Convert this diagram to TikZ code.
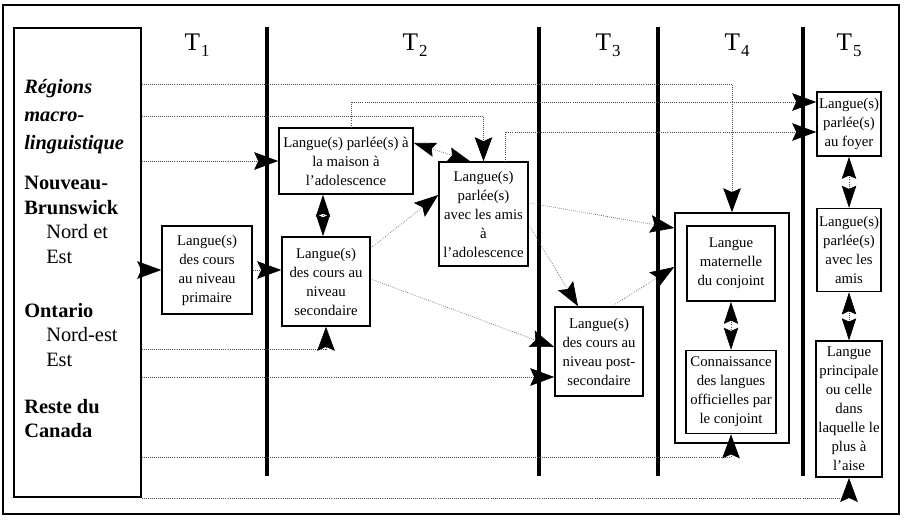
\documentclass[tikz,border=0pt]{standalone}
\usepackage{fontspec}
\setmainfont{Liberation Serif}
\usetikzlibrary{arrows.meta,positioning}
\tikzset{
    boite/.style={rectangle, draw=black, line width=1.1pt, align=center, inner sep=1pt, font=\fontsize{10.5}{13.5}\selectfont},
    region/.style={anchor=north west, inner sep=0pt, align=left, font=\fontsize{14.5}{17.4}\selectfont},
    fil/.style={line width=.45pt, densely dotted, black!70},
    tete/.tip={Stealth[length=6mm, width=4.4mm, inset=1mm, black]},
    dtete/.tip={Stealth[length=5.5mm, width=3.6mm, inset=.8mm, black]},
    pil/.style={fil, -tete},
    dpil/.style={fil, dtete-dtete},
    separ/.style={line width=2.2pt}
}
\newcommand{\tlab}[1]{T\kern.04em\raisebox{-.55ex}{\fontsize{12}{12}\selectfont #1}}

\begin{document}
\begin{tikzpicture}[x=0.025cm, y=-0.025cm]
    \useasboundingbox (0,0) rectangle (906,519);
    \draw[line width=1.2pt] (3,5) rectangle (899,514);
    % colonnes T1 ... T5
    \foreach \x in {267,539,658,803}
      \draw[separ] (\x,27) -- (\x,476);
    \foreach \x/\n in {197/1,415/2,608/3,737/4,849/5}
      \node[font=\fontsize{18}{18}\selectfont] (t\n) at (\x,45) {\tlab{\n}};

    % regions
    \node[draw, line width=1.2pt, minimum width=3.175cm, minimum height=11.725cm] (reg) at (77.5,262.5) {};
    \node[region, font=\fontsize{14.5}{20}\selectfont\bfseries\itshape] (regtitre) at (24,79)
      {Régions\\macro-\\linguistique};
    \node[region] (nb) at (24,176)
      {\textbf{Nouveau-}\\\textbf{Brunswick}\\\hspace*{5.5mm}Nord et\\\hspace*{5.5mm}Est};
    \node[region] (on) at (24,303)
      {\textbf{Ontario}\\\hspace*{5.5mm}Nord-est\\\hspace*{5.5mm}Est};
    \node[region] (rc) at (24,399)
      {\textbf{Reste du}\\\textbf{Canada}};

    % boites
    \node[boite, minimum width=2.25cm, minimum height=2.2cm] (primaire) at (207,270)
      {Langue(s)\\des cours\\au niveau\\primaire};
    \node[boite, minimum width=3.35cm, minimum height=1.65cm] (maison) at (346,161)
      {Langue(s) parlée(s) à\\la maison à\\l’adolescence};
    \node[boite, minimum width=2.2cm, minimum height=2.225cm] (secondaire) at (326,281.5)
      {Langue(s)\\des cours au\\niveau\\secondaire};
    \node[boite, minimum width=2.225cm, minimum height=2.6cm] (amisado) at (483.5,214)
      {Langue(s)\\parlée(s)\\avec les amis\\à\\l’adolescence};
    \node[boite, minimum width=2.2cm, minimum height=2.225cm] (postsec) at (599,351.5)
      {Langue(s)\\des cours au\\niveau post-\\secondaire};
    \node[boite, minimum width=2.85cm, minimum height=5.75cm] (t4box) at (732,328) {};
    \node[boite, minimum width=2.2cm, minimum height=1.875cm] (maternelle) at (731,263.5)
      {Langue\\maternelle\\du conjoint};
    \node[boite, minimum width=2.25cm, minimum height=2.075cm, below=1.2cm of maternelle] (connaissance)
      {Connaissance\\des langues\\officielles par\\le conjoint};
    \node[boite, minimum width=1.6cm, minimum height=1.6cm] (foyer) at (849,124)
      {Langue(s)\\parlée(s)\\au foyer};
    \node[boite, minimum width=1.6cm, minimum height=2.075cm, below=1.275cm of foyer] (amist5)
      {Langue(s)\\parlée(s)\\avec les\\amis};
    \node[boite, minimum width=1.65cm, minimum height=3.4cm, below=1.2cm of amist5] (principale)
      {Langue\\principale\\ou celle\\dans\\laquelle le\\plus à\\l’aise};

    % liens depuis les regions
    \draw[pil] (reg.east |- 0,84) -| (t4box.north);
    \draw[pil] (reg.east |- 0,116) -| (amisado.north);
    \draw[pil] (reg.east |- maison.west) -- (maison.west);
    \draw[pil] (reg.east |- primaire.west) -- (primaire.west);
    \draw[pil] (reg.east |- 0,349) -| (secondaire.south);
    \draw[pil] (reg.east |- 0,377) -- (postsec.west |- 0,377);
    \draw[pil] (reg.east |- 0,457) -| (connaissance.south);
    \draw[pil] (reg.south east) -| (principale.south);

    % liens entre les boites
    \draw[pil] (maison.north -| 351,0) |- (foyer.west |- 0,102);
    \draw[pil] (amisado.north -| 505,0) |- (foyer.west |- 0,132);
    \draw[pil] (primaire.east) -- (secondaire.west |- primaire.east);
    \draw[pil] (secondaire.east |- 0,248) -- (amisado.west |- 0,195);
    \draw[pil] (secondaire.east |- 0,279) -- (postsec.west |- 0,347);
    \draw[pil] (amisado.east |- 0,225) -- (postsec.north -| 578,0);
    \draw[pil] (amisado.east |- 0,203) -- (t4box.west |- 0,228);
    \draw[pil] (postsec.north -| 612,0) -- (t4box.west |- 0,267);
    \draw[dpil] (maison.east |- 0,143) -- (amisado.north -| 470,0);
    \draw[dpil] (maison.south -| 323,0) -- (secondaire.north -| 323,0);
    \draw[dpil] (maternelle.south) -- (maternelle.south |- connaissance.north);
    \draw[dpil] (foyer.south) -- (amist5.north);
    \draw[dpil] (amist5.south) -- (principale.north);
\end{tikzpicture}
\end{document}
